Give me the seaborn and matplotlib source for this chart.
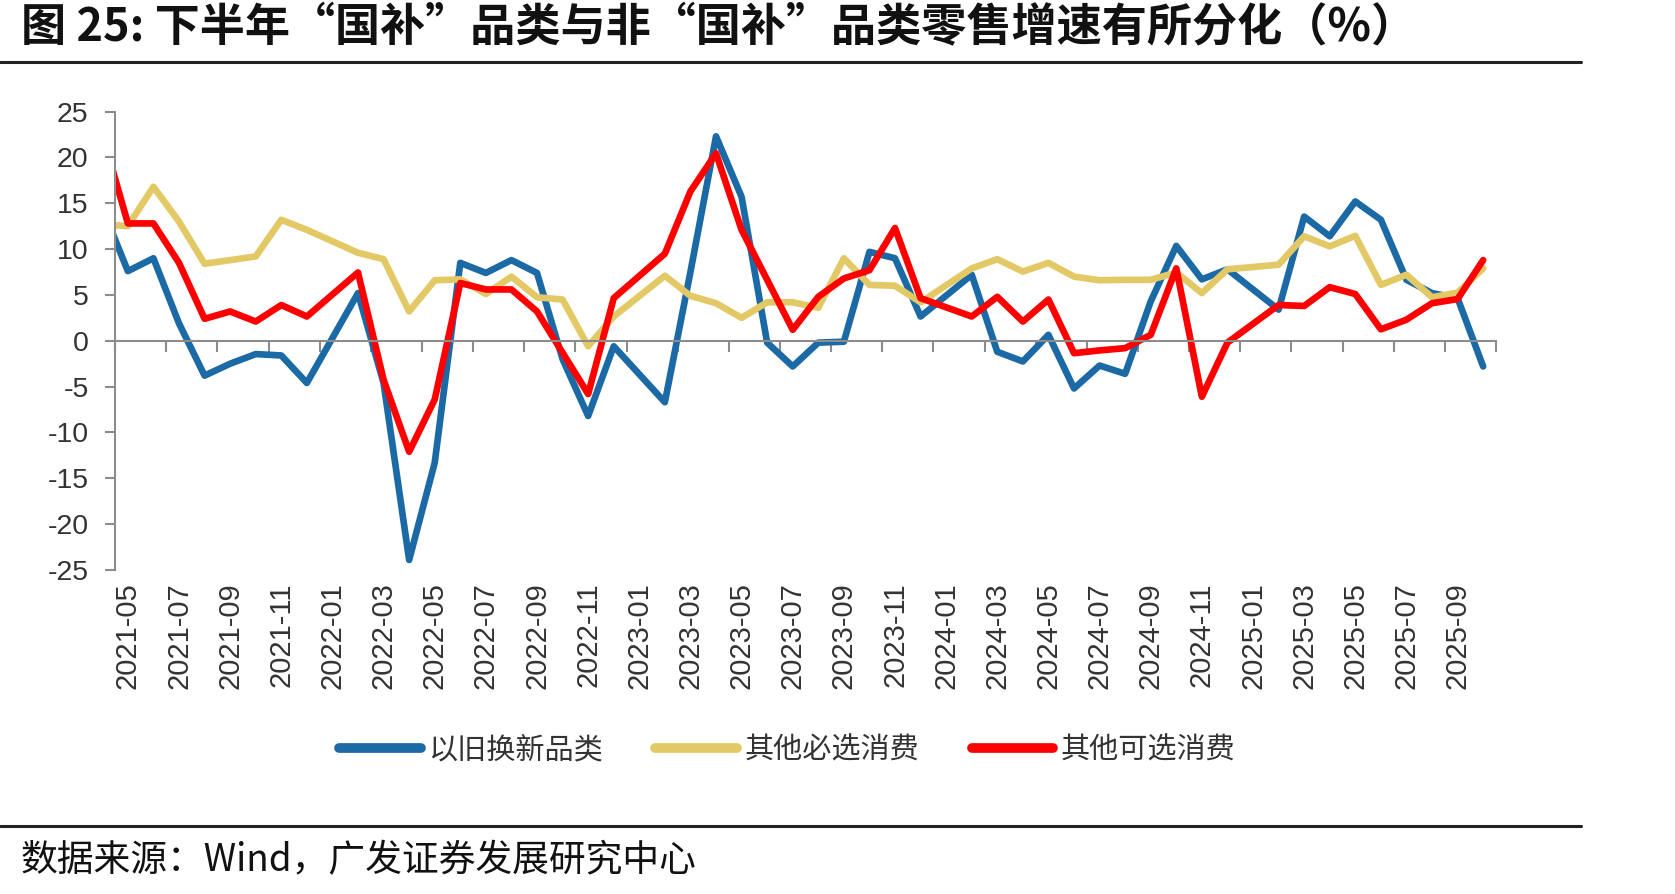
import numpy as np
import pandas as pd
import matplotlib
matplotlib.use('Agg')
import matplotlib.pyplot as plt
import seaborn as sns

nan = np.nan

# 月份（2021-04 起，1月无单月数据）
months = [p.strftime('%Y-%m') for p in pd.period_range('2021-04', '2025-10', freq='M')]

# 以旧换新品类
trade_in = [14.5, 7.6, 9.0, 1.9, -3.8, -2.5, -1.45, -1.6, -4.6,
            nan, 5.2, -4.6, -23.9, -13.3, 8.5, 7.4, 8.8, 7.4, -2.0, -8.2, -0.6,
            nan, -6.7, 7.5, 22.3, 15.7, -0.2, -2.8, -0.2, -0.1, 9.7, 9.0, 2.65,
            nan, 7.2, -1.2, -2.25, 0.65, -5.2, -2.7, -3.6, 4.3, 10.35, 6.7, 7.8,
            nan, 3.4, 13.55, 11.4, 15.2, 13.2, 6.65, 5.2, 4.65, -2.8]

# 其他必选消费
staples = [12.7, 12.5, 16.8, 13.0, 8.4, 8.8, 9.2, 13.2, 12.1,
           nan, 9.6, 8.9, 3.2, 6.6, 6.7, 5.1, 7.0, 4.75, 4.5, -0.6, 2.65,
           nan, 7.1, 4.9, 4.1, 2.5, 4.2, 4.2, 3.6, 9.0, 6.1, 6.0, 4.2,
           nan, 7.9, 8.9, 7.55, 8.5, 7.0, 6.6, 6.65, 6.65, 7.45, 5.2, 7.8,
           nan, 8.3, 11.4, 10.3, 11.45, 6.1, 7.2, 4.75, 5.25, 7.9]

# 其他可选消费
optional = [22.6, 12.8, 12.8, 8.5, 2.4, 3.2, 2.1, 3.9, 2.65,
            nan, 7.45, -4.25, -12.1, -6.4, 6.3, 5.6, 5.6, 3.2, -1.3, -5.8, 4.65,
            nan, 9.5, 16.3, 20.45, 12.1, 6.65, 1.2, 4.8, 6.8, 7.7, 12.3, 4.65,
            nan, 2.65, 4.8, 2.1, 4.5, -1.35, -1.05, -0.8, 0.65, 7.9, -6.1, -0.2,
            nan, 3.9, 3.8, 5.85, 5.1, 1.25, 2.3, 4.1, 4.55, 8.8]

series_names = ['以旧换新品类', '其他必选消费', '其他可选消费']
colors = ['#1B6AA5', '#E3C965', '#FF0000']

# 整理成长表，位置 0 = 2021-05
pos = np.arange(len(months)) - 1
frames = []
for name, vals in zip(series_names, [trade_in, staples, optional]):
    frames.append(pd.DataFrame({'pos': pos, 'month': months, 'value': vals, 'series': name}))
df = pd.concat(frames).dropna()

sns.set_theme(style='ticks')
plt.rcParams['font.family'] = ['Noto Sans CJK SC', 'DejaVu Sans']
plt.rcParams['axes.unicode_minus'] = False

fig = plt.figure(figsize=(16.75, 8.94), dpi=100)
ax = fig.add_axes([0.0687, 0.3624, 0.8244, 0.5128])

sns.lineplot(data=df, x='pos', y='value', hue='series', hue_order=series_names,
             palette=colors, linewidth=4.8, errorbar=None, ax=ax, legend=True,
             solid_capstyle='round', solid_joinstyle='round')

gray = '#8C8C8C'
ax.set_xlim(-0.5, 53.5)
ax.set_ylim(-25, 25)
ax.set_xlabel('')
ax.set_ylabel('')

# y 轴
ax.set_yticks(range(-25, 26, 5))
ax.tick_params(axis='y', direction='out', length=7, width=1.5, color=gray, pad=12,
               labelsize=20.5, labelcolor='#333333')
for lab in ax.get_yticklabels():
    lab.set_fontfamily('Liberation Sans')
ax.spines['left'].set_color(gray)
ax.spines['left'].set_linewidth(1.5)
ax.spines['top'].set_visible(False)
ax.spines['right'].set_visible(False)

# x 轴在 0 处，刻度在类别之间
ax.spines['bottom'].set_position(('data', 0))
ax.spines['bottom'].set_color(gray)
ax.spines['bottom'].set_linewidth(1.5)
ax.set_xticks(np.arange(-0.5, 54, 2))
ax.tick_params(axis='x', direction='out', length=8, width=1.5, color=gray, labelbottom=False)

# 标签放在图底部
sec = ax.secondary_xaxis('bottom')
sec.spines['bottom'].set_visible(False)
label_pos = list(range(0, 54, 2))
sec.set_xticks(label_pos, labels=[months[p + 1] for p in label_pos])
sec.tick_params(axis='x', length=0, pad=9, labelsize=21, labelcolor='#333333', labelrotation=90)
for lab in sec.get_xticklabels():
    lab.set_fontfamily('Liberation Sans')

# 图例
handles, labels = ax.get_legend_handles_labels()
ax.get_legend().remove()
leg = fig.legend(handles, labels, loc='center', bbox_to_anchor=(0.47, 0.161), ncol=3,
                 frameon=False, fontsize=21, handlelength=2.8, handletextpad=0.25,
                 columnspacing=1.8)
for line in leg.get_lines():
    line.set_linewidth(7)
    line.set_solid_capstyle('round')
for t in leg.get_texts():
    t.set_color('#333333')

# 标题与来源
fig.text(21 / 1675, 1 - 28 / 894, '图 25: 下半年“国补”品类与非“国补”品类零售增速有所分化（%）',
         fontsize=32.5, fontweight='bold', ha='left', va='center', color='#111111')
fig.add_artist(plt.Line2D([0, 1581 / 1675], [1 - 62 / 894] * 2, color='#222222', linewidth=2.2))
fig.add_artist(plt.Line2D([0, 1581 / 1675], [1 - 826 / 894] * 2, color='#222222', linewidth=2.2))
fig.text(21 / 1675, 1 - 861 / 894, '数据来源：Wind，广发证券发展研究中心',
         fontsize=26.5, ha='left', va='center', color='#111111')

fig.savefig('out.png', dpi=100, facecolor='white')
plt.close(fig)
